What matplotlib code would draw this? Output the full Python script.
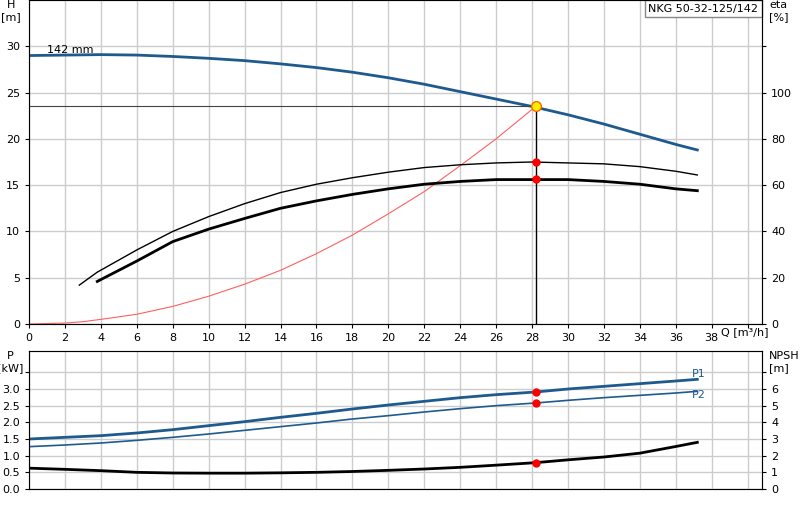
import matplotlib
matplotlib.use("Agg")
import matplotlib.pyplot as plt

Q_h = [0, 2, 4, 6, 8, 10, 12, 14, 16, 18, 20, 22, 24, 26, 28, 30, 32, 34, 36, 37.2]
H = [29, 29.05, 29.1, 29.05, 28.9, 28.7, 28.45, 28.1, 27.7, 27.2, 26.6, 25.9, 25.1, 24.3, 23.5, 22.6, 21.6, 20.5, 19.4, 18.8]
Q_e = [3.8, 6, 8, 10, 12, 14, 16, 18, 20, 22, 24, 26, 28, 30, 32, 34, 36, 37.2]
eta = [18.4, 27.2, 35.6, 41, 45.6, 50, 53.2, 56, 58.4, 60.4, 61.6, 62.4, 62.4, 62.4, 61.6, 60.4, 58.4, 57.6]
Q_e2 = [2.8] + Q_e[:]
eta2 = [16.8, 22.4, 32, 40, 46.4, 52, 56.8, 60.4, 63.2, 65.6, 67.6, 68.8, 69.6, 70, 69.6, 69.2, 68, 66, 64.4]
Q_s = [0, 2, 3, 4, 6, 8, 10, 12, 14, 16, 18, 20, 22, 24, 26, 28.2]
H_s = [0, 0.1, 0.25, 0.5, 1.05, 1.9, 3, 4.3, 5.8, 7.6, 9.6, 11.9, 14.3, 17.1, 20, 23.5]
Q_op, H_op, eta_op, eta2_op = 28.2, 23.5, 62.5, 70
Q_p = [0, 2, 4, 6, 8, 10, 12, 14, 16, 18, 20, 22, 24, 26, 28.2, 30, 32, 34, 36, 37.2]
P1 = [1.5, 1.55, 1.6, 1.68, 1.78, 1.9, 2.02, 2.15, 2.27, 2.4, 2.52, 2.63, 2.74, 2.83, 2.91, 3.0, 3.08, 3.16, 3.24, 3.29]
P2 = [1.27, 1.32, 1.38, 1.46, 1.55, 1.65, 1.76, 1.87, 1.98, 2.1, 2.2, 2.31, 2.41, 2.5, 2.58, 2.66, 2.74, 2.81, 2.88, 2.93]
NPSH = [1.25, 1.18, 1.1, 1.0, 0.96, 0.95, 0.95, 0.97, 1.0, 1.05, 1.12, 1.2, 1.3, 1.43, 1.58, 1.75, 1.92, 2.15, 2.55, 2.8]
P1_op, P2_op, NPSH_op = 2.91, 2.58, 1.58

blue = "#1f5a8f"
fig = plt.figure(figsize=(8, 5.2), dpi=100)
W, Hh = 800, 520
ax = fig.add_axes([29/W, 1-324/Hh, (762-29)/W, 324/Hh])
ax2 = ax.twinx()
axb = fig.add_axes([29/W, 1-489/Hh, (762-29)/W, (489-351)/Hh])
axb2 = axb.twinx()

for a in (ax, axb):
    a.set_xlim(0, 40.8)
    a.set_xticks(range(0, 41, 2))
    a.grid(True, color="#cccccc", lw=1)
    a.set_axisbelow(True)
    a.tick_params(labelsize=8, length=3)
    for s in a.spines.values():
        s.set_color("#777777")
ax.set_ylim(0, 35)
ax.set_yticks(range(0, 35, 5))
ax2.set_ylim(0, 140)
ax2.set_yticks(range(0, 121, 20))
ax2.set_yticklabels([str(v) if v <= 100 else "" for v in range(0, 121, 20)])
ax.set_xticklabels([str(v) if v <= 38 else "" for v in range(0, 41, 2)])
ax2.tick_params(labelsize=8, length=3)
axb.set_ylim(0, 4.14)
axb.set_yticks([0, 0.5, 1, 1.5, 2, 2.5, 3, 3.5])
axb.set_yticklabels(["0.0", "0.5", "1.0", "1.5", "2.0", "2.5", "3.0", ""])
axb.set_xticklabels([])
axb.tick_params(axis="x", length=0)
axb2.set_ylim(0, 8.28)
axb2.set_yticks(range(0, 8))
axb2.set_yticklabels([str(v) if v <= 6 else "" for v in range(8)])
axb2.tick_params(labelsize=8, length=3)

ax.plot(Q_h, H, color=blue, lw=2)
ax2.plot(Q_e2, eta2, color="black", lw=1)
ax2.plot(Q_e, eta, color="black", lw=2)
ax.plot(Q_s, H_s, color="#ff6060", lw=0.8)
ax.plot([0, Q_op], [H_op, H_op], color="#444444", lw=0.8)
ax.plot([Q_op, Q_op], [0, H_op], color="black", lw=1)
ax.plot(Q_op, H_op, "o", color="#ffee00", mec="#ff6600", ms=7, zorder=5)
ax2.plot([Q_op, Q_op], [eta_op, eta2_op], "o", color="red", ms=5, zorder=5)
ax.text(1, 29.3, "142 mm", fontsize=8)
ax.text(-0.025, 1.0, "H\n[m]", fontsize=8, ha="center", va="top", transform=ax.transAxes)
ax2.text(41.2, 140, "eta\n[%]", fontsize=8, ha="left", va="top")
ax.text(38.5, -0.3, "Q [m³/h]", fontsize=8, ha="left", va="top")
ax.text(40.6, 34.6, "NKG 50-32-125/142", fontsize=8, ha="right", va="top",
        bbox=dict(boxstyle="square,pad=0.3", fc="white", ec="#888888"))

axb.plot(Q_p, P1, color=blue, lw=2)
axb.plot(Q_p, P2, color=blue, lw=1.2)
axb2.plot(Q_p, NPSH, color="black", lw=2)
axb.plot([Q_op, Q_op], [P1_op, P2_op], "o", color="red", ms=5, zorder=5)
axb2.plot(Q_op, NPSH_op, "o", color="red", ms=5, zorder=5)
axb.text(36.9, 3.35, "P1", color=blue, fontsize=8)
axb.text(36.9, 2.72, "P2", color=blue, fontsize=8)
axb.text(-0.025, 1.0, "P\n[kW]", fontsize=8, ha="center", va="top", transform=axb.transAxes)
axb2.text(41.2, 8.28, "NPSH\n[m]", fontsize=8, ha="left", va="top")

fig.savefig("out.png", dpi=100)
